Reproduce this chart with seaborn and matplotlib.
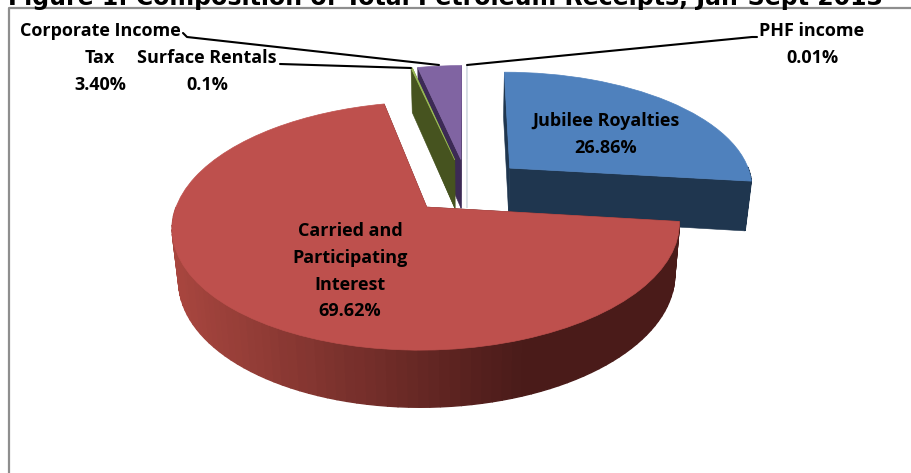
"""
Composition of petroleum receipts, drawn as an exploded pie with a 3D look.
"""

import numpy as np
import matplotlib
matplotlib.use("Agg")
import matplotlib.pyplot as plt
from matplotlib.transforms import Transform
import seaborn as sns

# Data
categories = ["Jubilee Royalties", "Carried and Participating Interest",
              "Surface Rentals", "Corporate Income Tax", "PHF income"]
values = [26.86, 69.62, 0.1, 3.40, 0.01]
value_labels = ["26.86%", "69.62%", "0.1%", "3.40%", "0.01%"]
title = "Figure 1: Composition of Total Petroleum Receipts, Jan-Sept 2013"

# Style
top_colors = ["#4f81bd", "#be504d", "#9bbb59", "#8064a2", "#d5dde3"]
wall_colors = ["#1f364f", "#4a1b19", "#46531f", "#3c2a55", "#d5dde3"]
draw_order = [4, 3, 2, 0, 1]
explode = [0.24] * 5

# Camera used to lay the flat pie down
CX, CY, RX, RY, K = 467, 186, 244, 115, 0.148
DEPTH, SHRINK = 50, 0.978


def project(xy):
    xy = np.atleast_2d(xy)
    w = 1 + K * xy[:, 1]
    return np.column_stack([CX + RX * xy[:, 0] / w, CY - RY * xy[:, 1] / w])


def drop(xy):
    """Same ground points, on the underside of the pie."""
    xy = np.atleast_2d(xy)
    w = 1 + K * xy[:, 1]
    top = project(xy)
    return np.column_stack([CX + (top[:, 0] - CX) * SHRINK,
                            top[:, 1] + DEPTH / w ** 0.7])


class GroundToScreen(Transform):
    input_dims = output_dims = 2

    def transform_non_affine(self, values):
        return project(values)


sns.set_theme(style="white")
plt.rcParams["font.family"] = ["Open Sans", "DejaVu Sans"]

fig = plt.figure(figsize=(9.12, 4.73), dpi=100)
ax = fig.add_axes([0, 0, 1, 1])
wedges, _ = ax.pie(values, explode=explode, startangle=90, counterclock=False)
ax.set_aspect("auto")
ax.set_xlim(0, 912)
ax.set_ylim(473, 0)
ax.axis("off")

side_shades = sns.blend_palette(["#a8463f", "#4a1b19"], 64)
ground = GroundToScreen()

for z, i in enumerate(draw_order):
    wedge = wedges[i]
    base = 2 + z * 2
    center = np.array(wedge.center)
    angles = np.radians(np.linspace(wedge.theta1, wedge.theta2, 121))
    rim = center + wedge.r * np.column_stack([np.cos(angles), np.sin(angles)])

    # radial walls
    for end in (rim[0], rim[-1]):
        spoke = np.array([center, end])
        poly = np.vstack([project(spoke), drop(spoke)[::-1]])
        ax.fill(poly[:, 0], poly[:, 1], color=wall_colors[i], lw=0.4, zorder=base)

    # outer wall, in strips so the red one can carry its gradient
    upper, lower = project(rim), drop(rim)
    for a in range(len(rim) - 1):
        if np.sin(angles[a]) > 0 and np.sin(angles[a + 1]) > 0:
            continue  # far side, hidden under the top
        poly = np.vstack([upper[a:a + 2], lower[a:a + 2][::-1]])
        if i == 1:
            t = np.clip((poly[:, 0].mean() - 175) / 345, 0, 1)
            shade = side_shades[int(t * 63)]
        else:
            shade = wall_colors[i]
        ax.fill(poly[:, 0], poly[:, 1], color=shade, lw=1.0, zorder=base)

    wedge.set_transform(ground + ax.transData)
    wedge.set_facecolor(top_colors[i])
    wedge.set_edgecolor(top_colors[i])
    wedge.set_linewidth(0.5)
    wedge.set_zorder(base + 1)

# Frame and leader lines
ax.plot([9.5, 9.5, 912], [473, 8, 8], color="#8e8e8e", lw=1.6, zorder=1, clip_on=False)
leaders = [([183, 187, 439], [33, 37, 65]),
           ([280, 411], [64, 68]),
           ([467, 752, 757], [65, 37, 37])]
for xs, ys in leaders:
    ax.plot(xs, ys, color="black", lw=1.5, zorder=20)

# Text
label_style = dict(ha="center", va="center", fontsize=13, fontweight="bold",
                   color="black", zorder=30)
ax.text(100, 31, "Corporate Income", **label_style)
ax.text(100, 58, "Tax", **label_style)
ax.text(100, 85, value_labels[3], **label_style)
ax.text(207, 58, categories[2], **label_style)
ax.text(207, 85, value_labels[2], **label_style)
ax.text(812, 31, categories[4], **label_style)
ax.text(812, 58, value_labels[4], **label_style)
ax.text(606, 121, categories[0], **label_style)
ax.text(606, 148, value_labels[0], **label_style)
ax.text(350, 231, "Carried and", **label_style)
ax.text(350, 258, "Participating", **label_style)
ax.text(350, 285, "Interest", **label_style)
ax.text(350, 311, value_labels[1], **label_style)
ax.text(8, 5, title, ha="left", va="baseline", fontsize=17, fontweight="bold",
        family="DejaVu Sans", color="black", zorder=30)

fig.savefig("out.png", dpi=100)
